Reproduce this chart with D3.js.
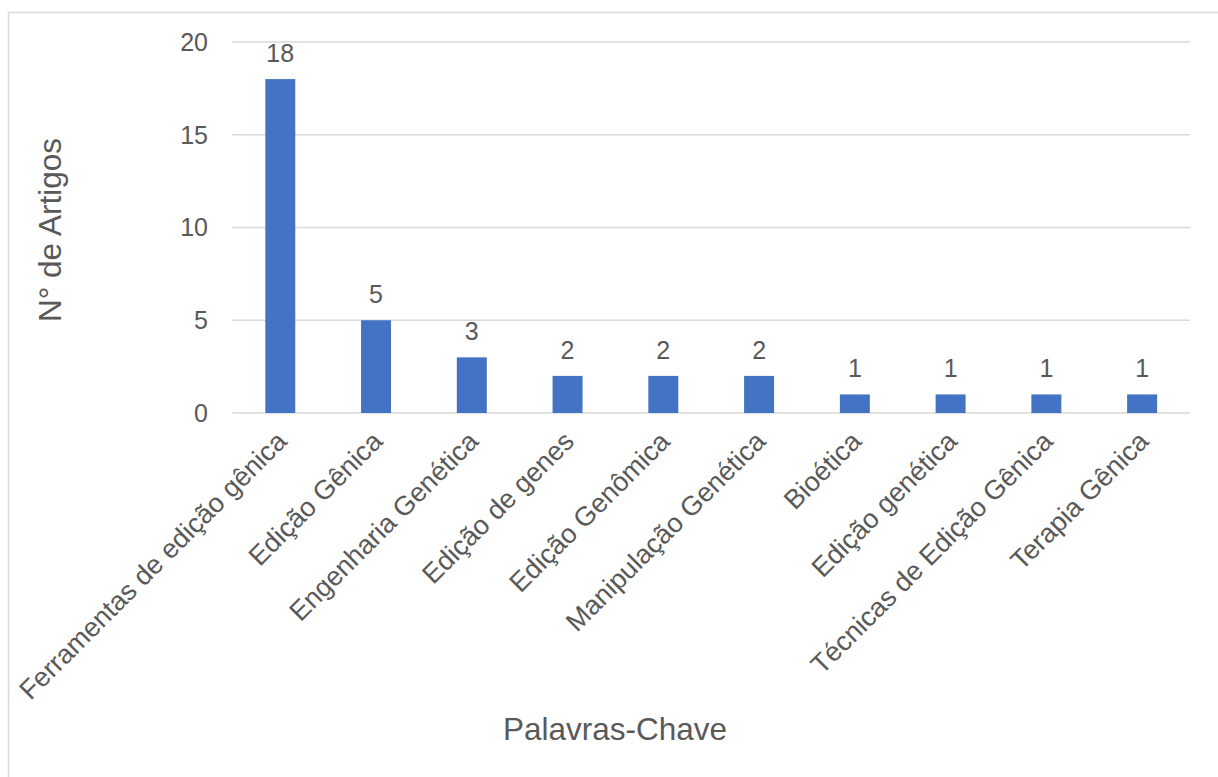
<!DOCTYPE html>
<html>
<head>
<meta charset="utf-8">
<script src="https://cdn.jsdelivr.net/npm/d3@7"></script>
<style>
  body { margin: 0; background: #fff; }
  svg text { font-family: "Liberation Sans", Arial, sans-serif; fill: #595959; }
</style>
</head>
<body>
<script>
//keywords and article counts
var categories = ["Ferramentas de edição gênica", "Edição Gênica", "Engenharia Genética",
    "Edição de genes", "Edição Genômica", "Manipulação Genética", "Bioética",
    "Edição genética", "Técnicas de Edição Gênica", "Terapia Gênica"];
var counts = [18, 5, 3, 2, 2, 2, 1, 1, 1, 1];
var yTicks = [0, 5, 10, 15, 20];

//chart frame dimensions
var width = 1218,
    height = 777;

var svg = d3.select("body")
    .append("svg")
    .attr("width", width)
    .attr("height", height);

//chart border
svg.append("rect")
    .attr("x", 8.5)
    .attr("y", 12.5)
    .attr("width", 1240)
    .attr("height", 800)
    .attr("fill", "none")
    .attr("stroke", "#d9d9d9")
    .attr("stroke-width", 1.5);

//plot area
var plotLeft = 232.4, plotRight = 1190, plotTop = 42, plotBottom = 413;

var x = d3.scaleBand()
    .domain(categories)
    .range([plotLeft, plotRight])
    .paddingInner(0.687)
    .paddingOuter(0.687 / 2);

var y = d3.scaleLinear()
    .domain([0, 20])
    .range([plotBottom, plotTop]);

//gridlines
svg.selectAll(".grid")
    .data(yTicks)
    .enter()
    .append("line")
    .attr("class", "grid")
    .attr("x1", plotLeft)
    .attr("x2", plotRight)
    .attr("y1", function(d){ return y(d); })
    .attr("y2", function(d){ return y(d); })
    .attr("stroke", "#d9d9d9")
    .attr("stroke-width", 1.5);

//y tick labels
svg.selectAll(".ytick")
    .data(yTicks)
    .enter()
    .append("text")
    .attr("class", "ytick")
    .attr("x", 208)
    .attr("y", function(d){ return y(d); })
    .attr("dy", "0.35em")
    .attr("text-anchor", "end")
    .style("font-size", "25px")
    .text(function(d){ return d; });

//bars
svg.selectAll(".bar")
    .data(counts)
    .enter()
    .append("rect")
    .attr("class", "bar")
    .attr("x", function(d, i){ return x(categories[i]); })
    .attr("y", function(d){ return y(d); })
    .attr("width", x.bandwidth())
    .attr("height", function(d){ return y(0) - y(d); })
    .attr("fill", "#4472c4");

//data labels
svg.selectAll(".label")
    .data(counts)
    .enter()
    .append("text")
    .attr("class", "label")
    .attr("x", function(d, i){ return x(categories[i]) + x.bandwidth() / 2; })
    .attr("y", function(d){ return y(d) - 17; })
    .attr("text-anchor", "middle")
    .style("font-size", "25px")
    .text(function(d){ return d; });

//category labels, rotated
svg.selectAll(".xtick")
    .data(categories)
    .enter()
    .append("text")
    .attr("class", "xtick")
    .attr("text-anchor", "end")
    .attr("transform", function(d){
        var cx = x(d) + x.bandwidth() / 2 + 8;
        return "translate(" + cx + "," + 443 + ") rotate(-45)";
    })
    .style("font-size", "27px")
    .text(function(d){ return d; });

//axis titles
svg.append("text")
    .attr("x", 615)
    .attr("y", 740)
    .attr("text-anchor", "middle")
    .style("font-size", "31.5px")
    .text("Palavras-Chave");

svg.append("text")
    .attr("transform", "translate(61,230) rotate(-90)")
    .attr("text-anchor", "middle")
    .style("font-size", "31.5px")
    .text("N° de Artigos");
</script>
</body>
</html>
